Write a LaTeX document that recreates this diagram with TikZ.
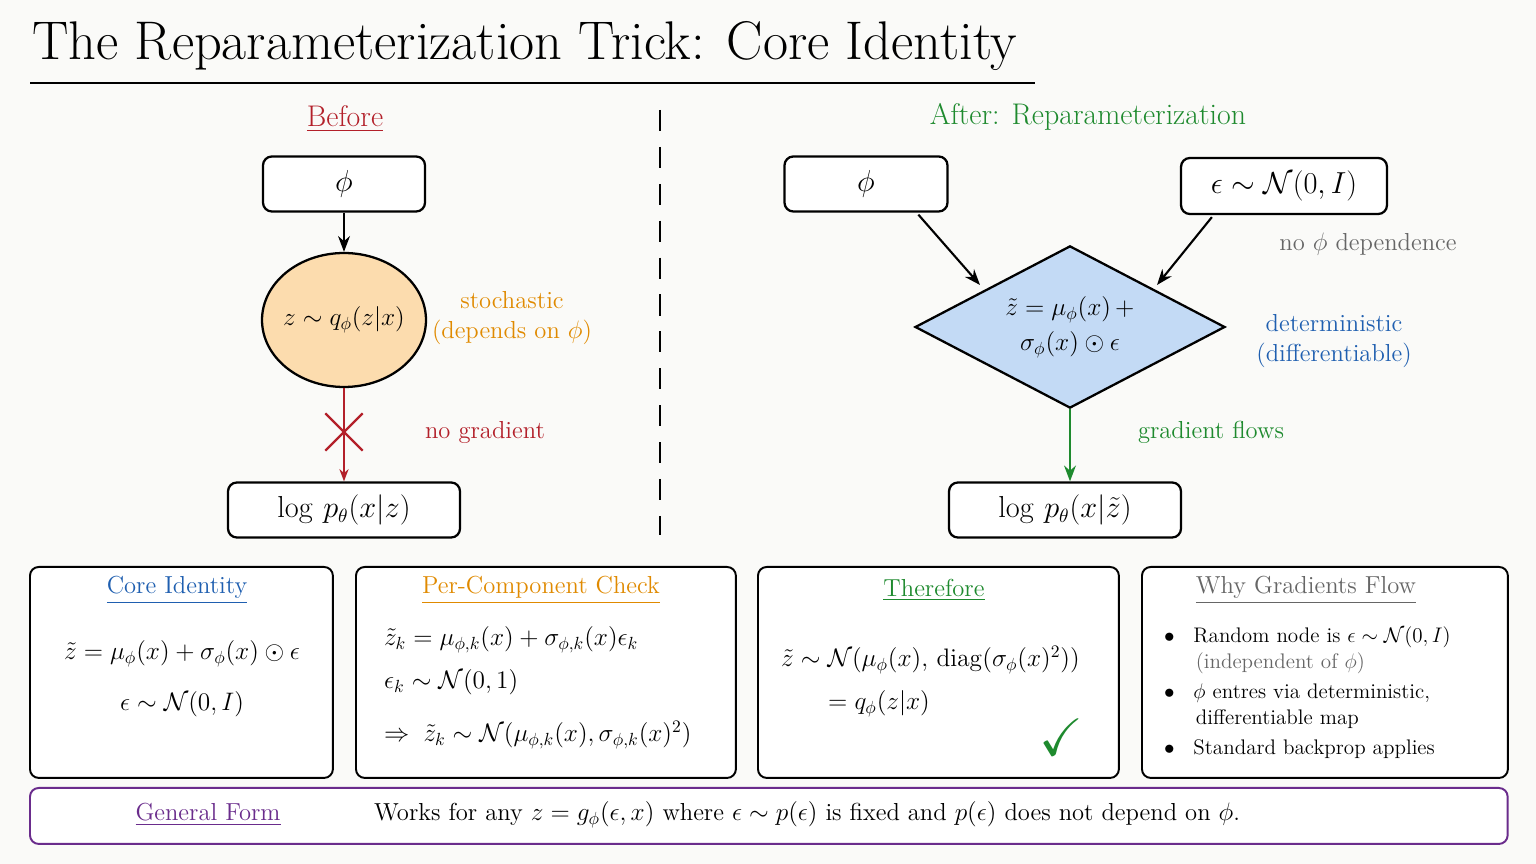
\documentclass[tikz,border=0pt]{standalone}
\usepackage{amsmath}
\usepackage{amssymb}
\usetikzlibrary{shapes.geometric,shapes.misc,arrows.meta}
\definecolor{bg}{HTML}{FAFAF8}
\definecolor{cred}{HTML}{B3202A}
\definecolor{corange}{HTML}{E08A00}
\definecolor{cgreen}{HTML}{1E8A2E}
\definecolor{cblue}{HTML}{1F5FB0}
\definecolor{cpurple}{HTML}{6A2C8C}
\definecolor{cgray}{HTML}{666666}
\definecolor{forange}{HTML}{FCDCAE}
\definecolor{fblue}{HTML}{C3DAF5}
\tikzset{
  box/.style={draw,line width=1.3pt,rounded corners=5pt,fill=white},
  panel/.style={draw,line width=1.1pt,rounded corners=5pt,fill=white,anchor=north west},
  head/.style={font=\fontsize{17}{20}\selectfont},
  lbl/.style={font=\fontsize{14}{17}\selectfont},
  big/.style={font=\fontsize{16}{20}\selectfont},
  txt/.style={font=\fontsize{14}{17}\selectfont},
  arr/.style={-{Stealth[length=9pt]},line width=1.2pt},
}
\begin{document}
\begin{tikzpicture}[x=0.02cm,y=-0.02cm]
\fill[bg] (0,0) rectangle (1536,864);
\useasboundingbox (0,0) rectangle (1536,864);
% title
\node[anchor=west,font=\fontsize{31}{36}\selectfont] (title) at (26,46) {The Reparameterization Trick: Core Identity};
\draw[line width=1.4pt] (30,83) -- (1035,83);
\draw[line width=1.2pt,dash pattern=on 12pt off 9pt] (660,110) -- (660,535);
% before
\node[cred,head] (before) at (345,119) {\underline{Before}};
\node[box,big,minimum width=3.24cm,minimum height=1.1cm] (phiA) at (344,184) {$\phi$};
\node[ellipse,draw,line width=1.3pt,fill=forange,minimum width=3.28cm,minimum height=2.68cm,inner sep=-6pt,txt] (zA) at (344,320) {$z\sim q_\phi(z|x)$};
\node[corange,align=center,lbl] (stoch) at (512,318) {stochastic\\(depends on $\phi$)};
\node[box,big,minimum width=4.64cm,minimum height=1.1cm] (logA) at (344,510) {$\log\, p_\theta(x|z)$};
\node[cross out,draw=cred,line width=1.3pt,minimum size=0.7cm] (xmark) at (344,432) {};
\node[cred,lbl] (nograd) at (485,432) {no gradient};
\draw[arr] (phiA) -- (zA);
\draw[-{Stealth[length=7pt]},line width=1pt,cred] (zA) -- (logA);
% after
\node[cgreen,head] (after) at (1088,117) {After: Reparameterization};
\node[box,big,minimum width=3.26cm,minimum height=1.1cm] (phiB) at (866,184) {$\phi$};
\node[box,big,minimum width=4.12cm,minimum height=1.12cm] (eps) at (1284,186) {$\epsilon\sim\mathcal N(0,I)$};
\node[diamond,draw,line width=1.3pt,fill=fblue,minimum width=6.2cm,minimum height=3.24cm,inner sep=-4pt,align=center,txt] (zB) at (1070,327) {$\tilde z=\mu_\phi(x)\,+$\\[3pt]$\sigma_\phi(x)\odot\epsilon$};
\node[cgray,lbl] (nodep) at (1368,244) {no $\phi$ dependence};
\node[cblue,align=center,lbl] (det) at (1334,341) {deterministic\\(differentiable)};
\node[box,big,minimum width=4.64cm,minimum height=1.1cm] (logB) at (1065,510) {$\log\, p_\theta(x|\tilde z)$};
\node[cgreen,lbl] (gflow) at (1211,432) {gradient flows};
\draw[arr] (phiB.south west) ++(135,2) coordinate (pA) (pA) -- (980,285) coordinate (pB);
\draw[arr] (eps.south west) ++(32,2) coordinate (eA) (eA) -- (1157,285) coordinate (eB);
\draw[arr,cgreen] (zB.south) -- (zB.south |- logB.north);
% panels
\node[panel,minimum width=6.06cm,minimum height=4.22cm] (p1) at (29,566) {};
\node[panel,minimum width=7.6cm,minimum height=4.22cm] (p2) at (355,566) {};
\node[panel,minimum width=7.22cm,minimum height=4.22cm] (p3) at (757,566) {};
\node[panel,minimum width=7.32cm,minimum height=4.22cm] (p4) at (1141,566) {};
\node[panel,draw=cpurple,minimum width=29.56cm,minimum height=1.12cm] (p5) at (29,787) {};
\node[cblue,lbl] (h1) at (177,590) {\underline{Core Identity}};
\node[align=center,txt] (t1) at (182,679) {$\tilde z=\mu_\phi(x)+\sigma_\phi(x)\odot\epsilon$\\[12pt]$\epsilon\sim\mathcal N(0,I)$};
\node[corange,lbl] (h2) at (541,590) {\underline{Per-Component Check}};
\node[anchor=west,txt] (t2a) at (378,640) {$\tilde z_k=\mu_{\phi,k}(x)+\sigma_{\phi,k}(x)\epsilon_k$};
\node[anchor=west,txt] (t2b) at (378,682) {$\epsilon_k\sim\mathcal N(0,1)$};
\node[anchor=west,txt] (t2c) at (378,735) {$\Rightarrow\;\tilde z_k\sim\mathcal N(\mu_{\phi,k}(x),\sigma_{\phi,k}(x)^2)$};
\node[cgreen,lbl] (h3) at (934,590) {\underline{Therefore}};
\node[anchor=west,txt] (t3a) at (775,660) {$\tilde z\sim\mathcal N(\mu_\phi(x),\,\mathrm{diag}(\sigma_\phi(x)^2))$};
\node[anchor=west,txt] (t3b) at (822,704) {$=q_\phi(z|x)$};
\node[cgreen,font=\fontsize{30}{30}\selectfont] (check) at (1061,737) {$\checkmark$};
\node[cgray,lbl] (h4) at (1306,590) {\underline{Why Gradients Flow}};
\node[anchor=north west,align=left,font=\fontsize{12}{14}\selectfont,text width=6.8cm] (t4) at (1158,620) {%
$\bullet$\;\; Random node is $\epsilon\sim\mathcal N(0,I)$\\[1pt]
\hspace*{1.5em}{\color{cgray}(independent of $\phi$)}\\[3pt]
$\bullet$\;\; $\phi$ entres via deterministic,\\[1pt]
\hspace*{1.5em}differentiable map\\[3pt]
$\bullet$\;\; Standard backprop applies};
\node[cpurple,lbl] (h5) at (208,815) {\underline{General Form}};
\node[anchor=west,txt] (t5) at (368,815) {Works for any $z=g_\phi(\epsilon,x)$ where $\epsilon\sim p(\epsilon)$ is fixed and $p(\epsilon)$ does not depend on $\phi$.};
\end{tikzpicture}
\end{document}
